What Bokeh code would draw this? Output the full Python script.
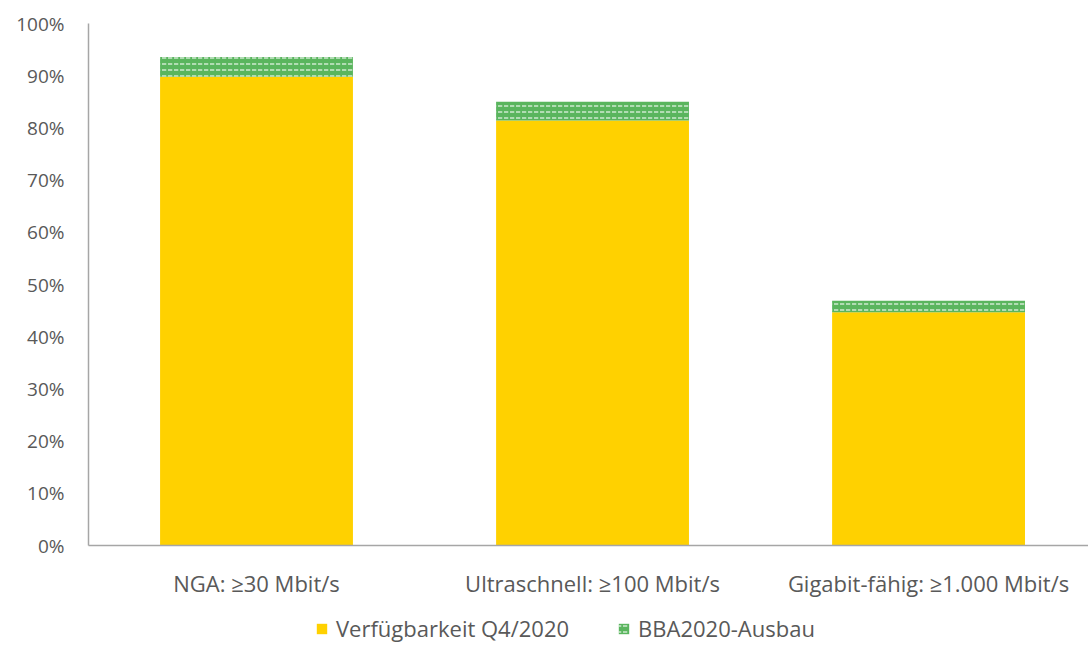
from bokeh.plotting import figure
from bokeh.models import Range1d, FixedTicker, Legend, LegendItem, NumeralTickFormatter
from bokeh.layouts import column
from bokeh.embed import file_html
from bokeh.resources import INLINE

categories = ["NGA: ≥30 Mbit/s", "Ultraschnell: ≥100 Mbit/s", "Gigabit-fähig: ≥1.000 Mbit/s"]
verfuegbarkeit = [0.898, 0.814, 0.447]
bba_ausbau = [0.038, 0.036, 0.022]
series_names = ["Verfügbarkeit Q4/2020", "BBA2020-Ausbau"]
y_ticks = [0, 0.1, 0.2, 0.3, 0.4, 0.5, 0.6, 0.7, 0.8, 0.9, 1.0]

FONT = "Open Sans"
GREY = "#595959"
YELLOW = "#FFD100"
GREEN = "#5AB55E"
HATCH = dict(hatch_pattern='"', hatch_color="white", hatch_alpha=0.7,
             hatch_scale=6, hatch_weight=1.5)

xs = list(range(len(categories)))
tops = [a + b for a, b in zip(verfuegbarkeit, bba_ausbau)]

p = figure(width=1088, height=600, output_backend="svg", toolbar_location=None,
           x_range=Range1d(-0.5, 2.476), y_range=Range1d(0, 1.0))
p.min_border_left = 88
p.min_border_right = 0
p.min_border_top = 23
p.min_border_bottom = 51
p.outline_line_color = None
p.xgrid.visible = False
p.ygrid.visible = False
p.background_fill_color = "white"
p.border_fill_color = "white"

p.vbar(x=xs, top=verfuegbarkeit, bottom=0, width=0.574,
       fill_color=YELLOW, line_color=None)
p.vbar(x=xs, top=tops, bottom=verfuegbarkeit, width=0.574,
       fill_color=GREEN, line_color=None, **HATCH)

p.xaxis.ticker = FixedTicker(ticks=xs)
p.xaxis.major_label_overrides = {i: c for i, c in enumerate(categories)}
p.xaxis.major_tick_line_color = None
p.xaxis.minor_tick_line_color = None
p.xaxis.axis_line_color = "#A6A6A6"
p.xaxis.axis_line_width = 1.5
p.xaxis.major_label_text_font = FONT
p.xaxis.major_label_text_font_size = "22px"
p.xaxis.major_label_text_color = GREY
p.xaxis.major_label_standoff = 16

p.yaxis.ticker = FixedTicker(ticks=y_ticks)
p.yaxis.formatter = NumeralTickFormatter(format="0%")
p.yaxis.major_tick_line_color = None
p.yaxis.minor_tick_line_color = None
p.yaxis.axis_line_color = "#A6A6A6"
p.yaxis.axis_line_width = 1.5
p.yaxis.major_label_text_font = FONT
p.yaxis.major_label_text_font_size = "19px"
p.yaxis.major_label_text_color = GREY
p.yaxis.major_label_standoff = 18

# legend strip below the chart (its renderers are hidden; only the legend shows)
leg = figure(width=1088, height=45, output_backend="svg", toolbar_location=None,
             x_range=Range1d(-0.5, 2.476), y_range=Range1d(0, 1.0))
leg.min_border_left = 88
leg.min_border_right = 0
leg.min_border_top = 0
leg.min_border_bottom = 0
leg.outline_line_color = None
leg.axis.visible = False
leg.grid.visible = False
l1 = leg.vbar(x=xs, top=verfuegbarkeit, width=0.574, fill_color=YELLOW, line_color=None)
l2 = leg.vbar(x=xs, top=tops, bottom=verfuegbarkeit, width=0.574,
              fill_color=GREEN, line_color=None, **HATCH)
l1.visible = False
l2.visible = False
legend = Legend(items=[LegendItem(label=series_names[0], renderers=[l1]),
                       LegendItem(label=series_names[1], renderers=[l2])],
                orientation="horizontal", location=(227, 2),
                label_text_font=FONT, label_text_font_size="22px",
                label_text_color=GREY, glyph_width=13, glyph_height=13,
                spacing=48, border_line_color=None, background_fill_alpha=0,
                inactive_fill_alpha=0, click_policy="none",
                padding=0, margin=0, label_standoff=8)
leg.add_layout(legend, "center")

open("out.html", "w").write(file_html(column(p, leg, spacing=0), INLINE))
